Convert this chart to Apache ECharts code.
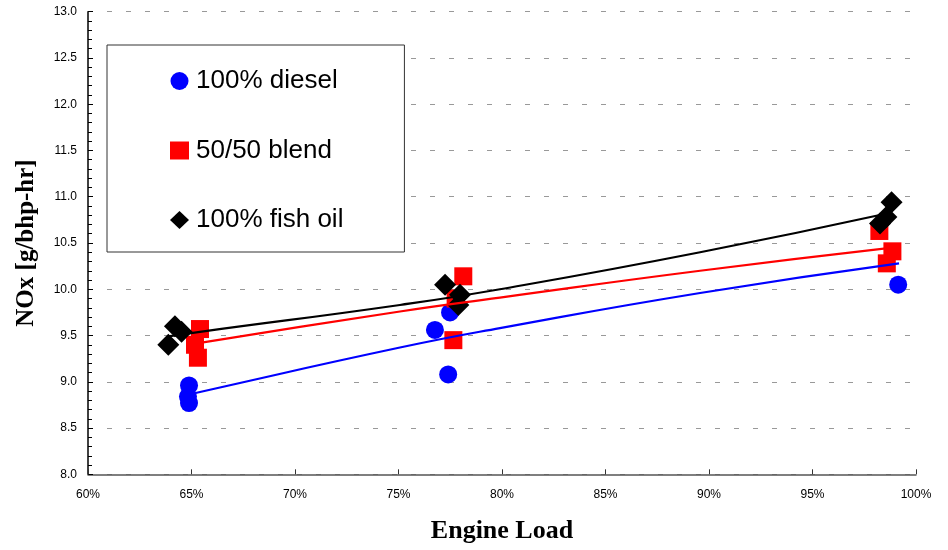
<!DOCTYPE html>
<html>
<head>
<meta charset="utf-8">
<script src="https://cdn.jsdelivr.net/npm/echarts@6/dist/echarts.min.js"></script>
<style>
	html, body { margin: 0; padding: 0; background: #fff; }
	#chart { width: 948px; height: 550px; }
</style>
</head>
<body>
<div id="chart"></div>
<script>
// measured points: [engine load %, NOx g/bhp-hr]
const diesel = [
	[64.88, 8.96], [64.83, 8.84], [64.88, 8.77],
	[76.76, 9.56], [77.49, 9.75], [77.40, 9.08],
	[99.14, 10.05]
];
const blend = [
	[65.41, 9.57], [65.17, 9.40], [65.31, 9.26],
	[78.13, 10.14], [77.65, 9.45], [77.76, 9.90],
	[98.23, 10.63], [98.86, 10.41], [98.59, 10.28]
];
const fishOil = [
	[64.20, 9.60], [64.52, 9.54], [63.88, 9.40],
	[77.25, 10.05], [77.97, 9.94], [77.89, 9.83],
	[98.82, 10.94], [98.57, 10.78], [98.26, 10.71]
];
// trend lines
const dieselFit = [[64.88, 8.86], [65.41, 8.89], [75.07, 9.37], [79.90, 9.58], [89.57, 9.96], [99.18, 10.28]];
const blendFit = [[65.17, 9.41], [65.41, 9.42], [75.07, 9.76], [79.90, 9.91], [89.57, 10.20], [98.86, 10.45]];
const fishFit = [[63.88, 9.49], [65.41, 9.54], [75.07, 9.83], [79.90, 10.00], [89.57, 10.40], [98.82, 10.83]];

const names = ["100% diesel", "50/50 blend", "100% fish oil"];
const colors = ["#0000ff", "#ff0000", "#000000"];

const myChart = echarts.init(document.getElementById("chart"));
const fitLine = (data, color) => ({
	type: "line",
	data: data,
	smooth: true,
	showSymbol: false,
	symbol: "none",
	z: 5,
	lineStyle: { color: color, width: 2.2 },
	silent: true
});
const option = {
	animation: false,
	grid: { left: 88, right: 32, top: 11.7, bottom: 75.7, outerBoundsMode: "none", containLabel: false },
	legend: {
		data: [
			{ name: names[0], icon: "circle" },
			{ name: names[1], icon: "rect" },
			{ name: names[2], icon: "diamond" }
		],
		orient: "vertical",
		left: 107,
		top: 45,
		padding: [23, 61, 19, 63],
		itemGap: 43.5,
		itemWidth: 19,
		itemHeight: 18,
		borderColor: "#333",
		borderWidth: 1,
		backgroundColor: "#fff",
		textStyle: { fontFamily: "Liberation Sans, Arial", fontSize: 26, color: "#000", lineHeight: 26, padding: [0, 0, 0, 2] }
	},
	xAxis: {
		type: "value",
		min: 60,
		max: 100,
		interval: 5,
		name: "Engine Load",
		nameLocation: "middle",
		nameGap: 44,
		nameTextStyle: { fontFamily: "Liberation Serif, Times New Roman", fontWeight: "bold", fontSize: 26, color: "#000" },
		axisLine: { lineStyle: { color: "#555", width: 1.5 } },
		axisTick: { inside: true, length: 5, lineStyle: { color: "#333" } },
		axisLabel: { formatter: "{value}%", fontFamily: "Liberation Sans, Arial", fontSize: 12, color: "#000", margin: 14 },
		splitLine: { show: false }
	},
	yAxis: {
		type: "value",
		min: 8,
		max: 13,
		interval: 0.5,
		name: "NOx [g/bhp-hr]",
		nameLocation: "middle",
		nameGap: 49,
		nameTextStyle: { fontFamily: "Liberation Serif, Times New Roman", fontWeight: "bold", fontSize: 25, color: "#000" },
		axisLine: { show: true, lineStyle: { color: "#000", width: 1.5 } },
		axisTick: { show: true, inside: true, length: 5, lineStyle: { color: "#000" } },
		minorTick: { show: true, splitNumber: 5, length: 4, lineStyle: { color: "#000" } },
		axisLabel: {
			formatter: v => v.toFixed(1),
			fontFamily: "Liberation Sans, Arial",
			fontSize: 12,
			color: "#000",
			margin: 11
		},
		splitLine: { show: true, lineStyle: { type: [5, 14], color: "#999", width: 1 } }
	},
	series: [
		{ name: names[0], type: "scatter", data: diesel, symbol: "circle", symbolSize: 18, itemStyle: { color: colors[0], opacity: 1 }, z: 2 },
		{ name: names[1], type: "scatter", data: blend, symbol: "rect", symbolSize: 18, itemStyle: { color: colors[1], opacity: 1 }, z: 3 },
		{ name: names[2], type: "scatter", data: fishOil, symbol: "diamond", symbolSize: 22, itemStyle: { color: colors[2], opacity: 1 }, z: 4 },
		fitLine(dieselFit, colors[0]),
		fitLine(blendFit, colors[1]),
		fitLine(fishFit, colors[2])
	]
};
myChart.setOption(option);
</script>
</body>
</html>
